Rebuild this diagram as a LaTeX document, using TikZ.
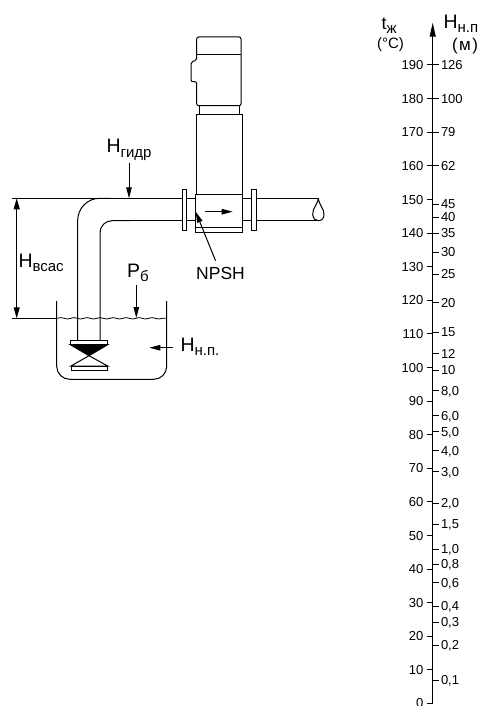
\documentclass[tikz,border=0pt]{standalone}
\usepackage{fontspec}
\setmainfont{Liberation Sans}
\usetikzlibrary{arrows.meta,decorations.pathmorphing}
\newcommand{\lowtext}[1]{\raisebox{-4.5pt}{\fontsize{15}{15}\selectfont #1}}

\begin{document}
\begin{tikzpicture}[x=1pt,y=-1pt,line width=1pt,
  big label/.style={inner sep=0pt,font=\fontsize{19.5}{19.5}\selectfont},
  unit label/.style={inner sep=0pt,font=\fontsize{15}{15}\selectfont},
  temp label/.style={anchor=east,inner sep=0pt,outer xsep=3.4pt,text height=9.3pt,text depth=0pt,font=\fontsize{13}{13}\selectfont},
  head label/.style={anchor=west,inner sep=0pt,outer xsep=2.3pt,text height=9.3pt,text depth=0pt,font=\fontsize{13}{13}\selectfont},
  pointer/.style={-{Triangle[length=11pt,width=5.5pt]},line width=1pt},
  dim line/.style={{Triangle[length=11pt,width=6pt]}-{Triangle[length=11pt,width=6pt]},line width=0.9pt},
  tick/.style={-,line width=1pt}]
  \useasboundingbox (0,0) rectangle (479,706);

  % pipe and tank
  \draw (11.7,198.3) -- (100,198.3);
  \draw (100,198.3) -- (318.3,198.3);
  \draw[rounded corners=22pt] (77.7,340) -- (77.7,198.3) -- (110,198.3);
  \draw[rounded corners=12pt] (100,340) -- (100,220.7) -- (130,220.7);
  \draw (130,220.7) -- (318.3,220.7);
  \draw (318.3,198.3) .. controls (317,206) and (312.5,208) .. (312.7,214.5) .. controls (313,219) and (316,220.7) .. (318.3,220.7) .. controls (322,220.7) and (324,218) .. (324,214.5) .. controls (324,208) and (319.5,206) .. (318.3,198.3);
  \draw[rounded corners=13pt] (56.7,301) -- (56.7,379.3) -- (166.7,379.3) -- (166.7,301);
  \draw (11.7,318.3) -- (56.7,318.3);
  \draw[line width=0.8pt,decorate,decoration={snake,amplitude=0.7pt,segment length=13pt}] (57,318.3) -- (166.7,318.3);

  % valve
  \draw[fill=black] (70.3,344.7) -- (107.7,344.7) -- (89,355.7) -- cycle;
  \draw (89,355.7) -- (71,366) -- (107.7,366) -- cycle;
  \draw[fill=white] (70.3,340) rectangle (107.7,344.7);
  \draw[fill=white] (71,366) rectangle (107.7,370.3);

  % pump
  \draw[fill=white] (182.7,189) rectangle (186.3,230.3);
  \draw[fill=white] (251.7,189) rectangle (256.3,230.3);
  \draw[fill=white,rounded corners=2pt] (196.7,54.3) -- (196.7,37) -- (241,37) -- (241,54.3);
  \draw (196.7,54.3) -- (241,54.3);
  \draw[rounded corners=2pt] (196.7,54.3) -- (196.7,60.5) -- (191,61.7) -- (191,81.7) -- (196.7,81.7) -- (196.7,105.7) -- (241,105.7) -- (241,54.3);
  \draw (199.7,105.7) -- (199.7,114.3);
  \draw (239,105.7) -- (239,114.3);
  \draw (196.7,114.3) rectangle (242,194.3);
  \draw[fill=white] (195.3,194.3) rectangle (242.7,232);
  \draw (195.3,227.3) -- (242.7,227.3);

  % named ends of the arrows
  \coordinate (a0) at (432.7,703);
  \coordinate (a1) at (432.7,22.7);
  \coordinate (d0) at (16.7,198.3);
  \coordinate (d1) at (16.7,318.3);
  \coordinate (g0) at (129,163.3);
  \coordinate (g1) at (129,198.3);
  \coordinate (p0) at (136.3,285);
  \coordinate (p1) at (136.3,318);
  \coordinate (s1) at (149.3,347.7);
  \coordinate (s0) at (173.3,347.7);
  \coordinate (f0) at (205,211.7);
  \coordinate (f1) at (232.7,211.7);
  \coordinate (b1) at (195.7,211.7);

  % labels of the drawing
  \node[big label,anchor=base west] (lgidr) at (106,152.7) {H\lowtext{гидр}};
  \node[big label,anchor=base west] (lvsas) at (18,267) {H\lowtext{всас}};
  \node[big label,anchor=base west] (lp) at (126.5,277) {P\lowtext{б}};
  \node[big label,anchor=base west] (lnp) at (180,351) {H\lowtext{н.п.}};
  \node[anchor=base,inner sep=0pt,outer sep=6pt,font=\fontsize{17.5}{17.5}\selectfont] (npsh) at (220.5,279) {NPSH};
  \path[] (d0) [dim line] edge (d1);
  \path[] (g0) [pointer] edge (g1);
  \path[] (p0) [pointer] edge (p1);
  \path[] (s0) [pointer] edge (s1);
  \path[] (f0) [pointer] edge (f1);
  \path[] (npsh) [pointer] edge (b1);

  % scale heads
  \node[anchor=base west,inner sep=0pt,font=\fontsize{18}{18}\selectfont] (lt) at (381,29.3) {t\lowtext{ж}};
  \node[unit label] (lc) at (390.5,45) {(°C)};
  \node[big label,anchor=base west] (lh) at (443,28.5) {H\lowtext{н.п}};
  \node[unit label,font=\fontsize{17}{17}\selectfont] (lm) at (465,46) {(\hspace{1.5pt}м\hspace{1.5pt})};
  \path[] (a0) [-{Triangle[length=14pt,width=6pt]},line width=1pt] edge (a1);

  % temperature side
  \node[temp label] (t190) at (426.7,65) {190};
  \node[temp label] (t180) at (426.7,98.7) {180};
  \node[temp label] (t170) at (426.7,132.3) {170};
  \node[temp label] (t160) at (426.7,165.9) {160};
  \node[temp label] (t150) at (426.7,199.5) {150};
  \node[temp label] (t140) at (426.7,233) {140};
  \node[temp label] (t130) at (426.7,266.6) {130};
  \node[temp label] (t120) at (426.7,300.2) {120};
  \node[temp label] (t110) at (426.7,333.8) {110};
  \node[temp label] (t100) at (426.7,367.4) {100};
  \node[temp label] (t90) at (426.7,401) {90};
  \node[temp label] (t80) at (426.7,434.6) {80};
  \node[temp label] (t70) at (426.7,468.2) {70};
  \node[temp label] (t60) at (426.7,501.8) {60};
  \node[temp label] (t50) at (426.7,535.4) {50};
  \node[temp label] (t40) at (426.7,569) {40};
  \node[temp label] (t30) at (426.7,602.6) {30};
  \node[temp label] (t20) at (426.7,636.2) {20};
  \node[temp label] (t10) at (426.7,669.8) {10};
  \node[temp label] (t0) at (426.7,703) {0};
  \path[] (t190.east) [tick] edge (t190 -| a0);
  \path[] (t180.east) [tick] edge (t180 -| a0);
  \path[] (t170.east) [tick] edge (t170 -| a0);
  \path[] (t160.east) [tick] edge (t160 -| a0);
  \path[] (t150.east) [tick] edge (t150 -| a0);
  \path[] (t140.east) [tick] edge (t140 -| a0);
  \path[] (t130.east) [tick] edge (t130 -| a0);
  \path[] (t120.east) [tick] edge (t120 -| a0);
  \path[] (t110.east) [tick] edge (t110 -| a0);
  \path[] (t100.east) [tick] edge (t100 -| a0);
  \path[] (t90.east) [tick] edge (t90 -| a0);
  \path[] (t80.east) [tick] edge (t80 -| a0);
  \path[] (t70.east) [tick] edge (t70 -| a0);
  \path[] (t60.east) [tick] edge (t60 -| a0);
  \path[] (t50.east) [tick] edge (t50 -| a0);
  \path[] (t40.east) [tick] edge (t40 -| a0);
  \path[] (t30.east) [tick] edge (t30 -| a0);
  \path[] (t20.east) [tick] edge (t20 -| a0);
  \path[] (t10.east) [tick] edge (t10 -| a0);
  \path[] (t0.east) [tick] edge (t0 -| a0);

  % head side
  \node[head label] (h126) at (438.7,65) {126};
  \node[head label] (h100) at (438.7,98.7) {100};
  \node[head label] (h79) at (438.7,132.3) {79};
  \node[head label] (h62) at (438.7,165.9) {62};
  \node[head label] (h45) at (438.7,204.3) {45};
  \node[head label] (h40) at (438.7,217) {40};
  \node[head label] (h35) at (438.7,233) {35};
  \node[head label] (h30) at (438.7,252.3) {30};
  \node[head label] (h25) at (438.7,274.3) {25};
  \node[head label] (h20) at (438.7,302.7) {20};
  \node[head label] (h15) at (438.7,332.3) {15};
  \node[head label] (h12) at (438.7,353.7) {12};
  \node[head label] (h10) at (438.7,370) {10};
  \node[head label] (h80) at (438.7,390.7) {8,0};
  \node[head label] (h60) at (438.7,415.7) {6,0};
  \node[head label] (h50) at (438.7,431.7) {5,0};
  \node[head label] (h40b) at (438.7,450.7) {4,0};
  \node[head label] (h30b) at (438.7,471.7) {3,0};
  \node[head label] (h20b) at (438.7,503.3) {2,0};
  \node[head label] (h15b) at (438.7,524.3) {1,5};
  \node[head label] (h10b) at (438.7,549.3) {1,0};
  \node[head label] (h08) at (438.7,564.3) {0,8};
  \node[head label] (h06) at (438.7,582.7) {0,6};
  \node[head label] (h04) at (438.7,606) {0,4};
  \node[head label] (h03) at (438.7,622.3) {0,3};
  \node[head label] (h02) at (438.7,645) {0,2};
  \node[head label] (h01) at (438.7,680) {0,1};
  \path[] (h126.west) [tick] edge (h126 -| a0);
  \path[] (h100.west) [tick] edge (h100 -| a0);
  \path[] (h79.west) [tick] edge (h79 -| a0);
  \path[] (h62.west) [tick] edge (h62 -| a0);
  \path[] (h45.west) [tick] edge (h45 -| a0);
  \path[] (h40.west) [tick] edge (h40 -| a0);
  \path[] (h35.west) [tick] edge (h35 -| a0);
  \path[] (h30.west) [tick] edge (h30 -| a0);
  \path[] (h25.west) [tick] edge (h25 -| a0);
  \path[] (h20.west) [tick] edge (h20 -| a0);
  \path[] (h15.west) [tick] edge (h15 -| a0);
  \path[] (h12.west) [tick] edge (h12 -| a0);
  \path[] (h10.west) [tick] edge (h10 -| a0);
  \path[] (h80.west) [tick] edge (h80 -| a0);
  \path[] (h60.west) [tick] edge (h60 -| a0);
  \path[] (h50.west) [tick] edge (h50 -| a0);
  \path[] (h40b.west) [tick] edge (h40b -| a0);
  \path[] (h30b.west) [tick] edge (h30b -| a0);
  \path[] (h20b.west) [tick] edge (h20b -| a0);
  \path[] (h15b.west) [tick] edge (h15b -| a0);
  \path[] (h10b.west) [tick] edge (h10b -| a0);
  \path[] (h08.west) [tick] edge (h08 -| a0);
  \path[] (h06.west) [tick] edge (h06 -| a0);
  \path[] (h04.west) [tick] edge (h04 -| a0);
  \path[] (h03.west) [tick] edge (h03 -| a0);
  \path[] (h02.west) [tick] edge (h02 -| a0);
  \path[] (h01.west) [tick] edge (h01 -| a0);
\end{tikzpicture}
\end{document}
